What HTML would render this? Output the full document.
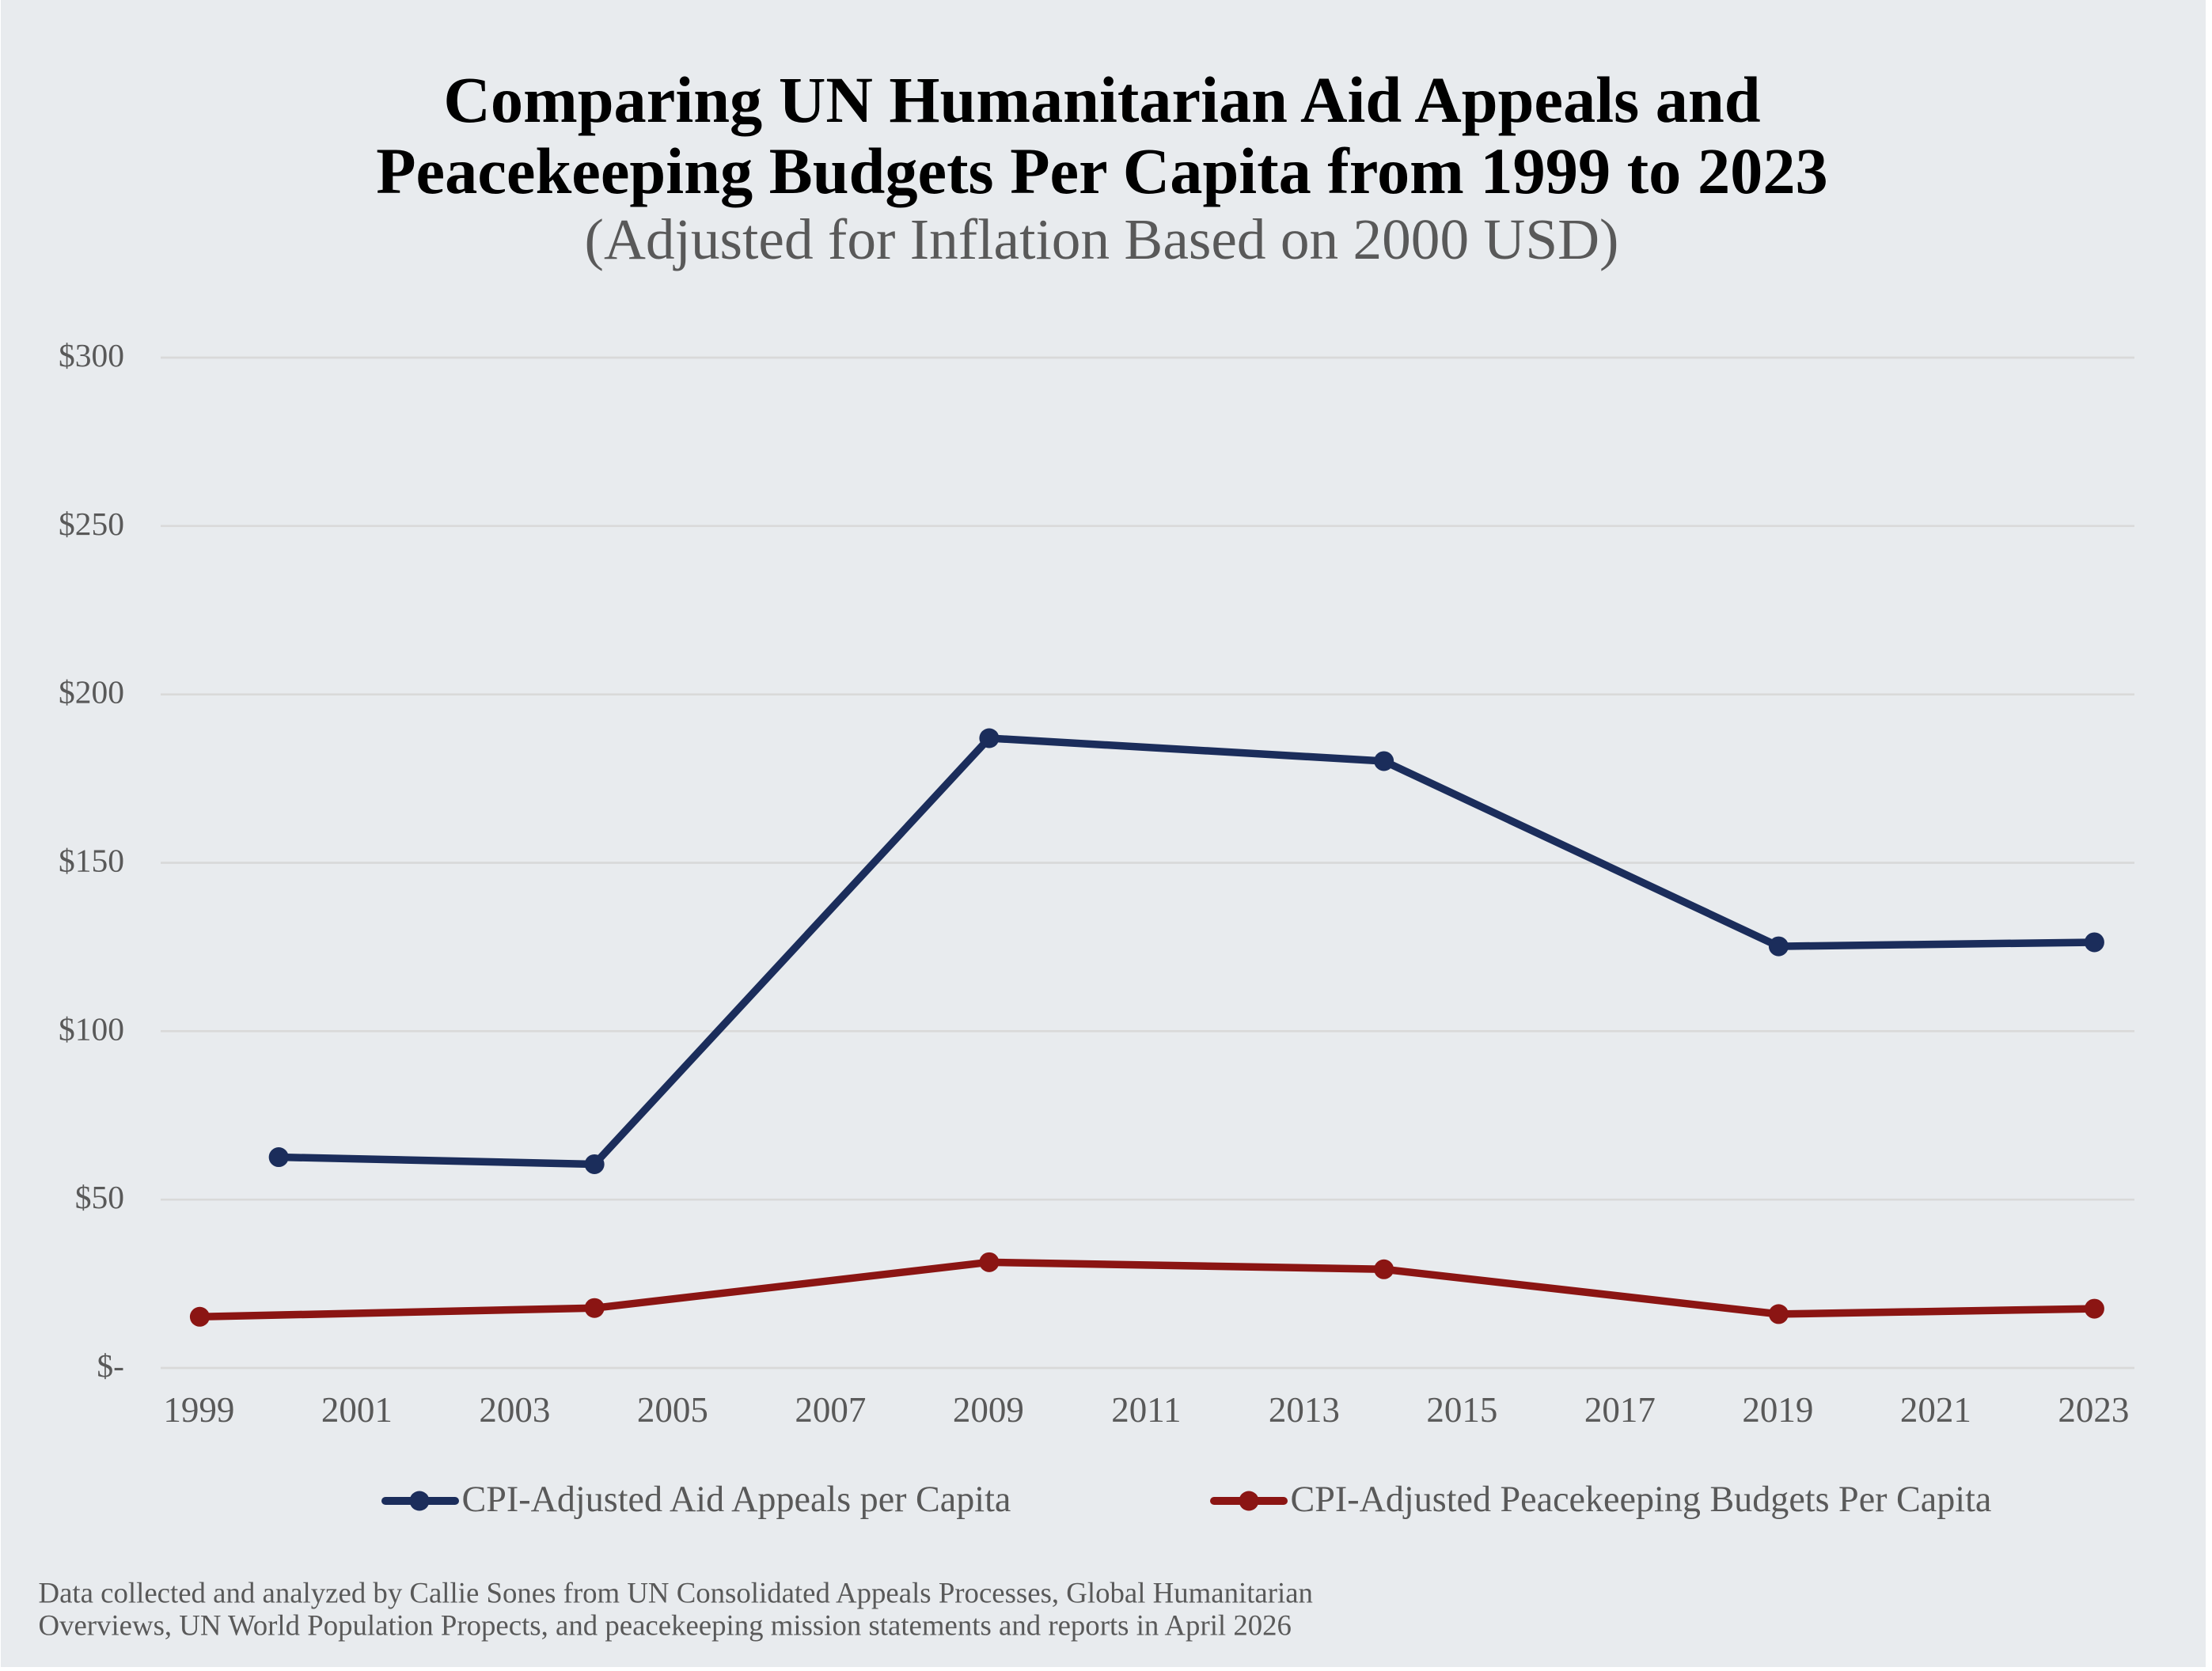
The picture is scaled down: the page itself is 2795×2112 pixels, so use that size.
<!DOCTYPE html>
<html lang="en"><head><meta charset="utf-8"><title>UN Aid Appeals and Peacekeeping Budgets Per Capita</title>
<style>
html,body{margin:0;padding:0;background:#ffffff;}
svg{display:block;font-family:"Liberation Serif","Times New Roman",serif;}
</style></head>
<body>
<svg id="chart" xmlns="http://www.w3.org/2000/svg" width="2795" height="2112" viewBox="0 0 2795 2112">
<rect x="1" y="0" width="2786" height="2107" fill="#e8ebee"/>
<text x="1392.5" y="154" text-anchor="middle" font-size="82.4" font-weight="700" fill="#000">Comparing UN Humanitarian Aid Appeals and</text>
<text x="1392.5" y="244" text-anchor="middle" font-size="82.4" font-weight="700" fill="#000">Peacekeeping Budgets Per Capita from 1999 to 2023</text>
<text x="1392" y="327" text-anchor="middle" font-size="73.3" fill="#595959">(Adjusted for Inflation Based on 2000 USD)</text>
<g id="grid"></g>
<g id="yticks" font-size="41.5" fill="#595959" text-anchor="end"></g>
<g id="xticks" font-size="45" fill="#595959" text-anchor="middle"></g>
<g id="series"></g>
<g>
<g>
<line x1="487" y1="1897" x2="575" y2="1897" stroke="#1b2d5b" stroke-width="10" stroke-linecap="round"/>
<circle cx="530" cy="1897" r="12.5" fill="#1b2d5b"/>
<text x="583.5" y="1910" font-size="46.1" fill="#595959">CPI-Adjusted Aid Appeals per Capita</text>
</g>
<g>
<line x1="1534" y1="1897" x2="1622" y2="1897" stroke="#8b1513" stroke-width="10" stroke-linecap="round"/>
<circle cx="1578" cy="1897" r="12.5" fill="#8b1513"/>
<text x="1630.5" y="1910" font-size="46.1" fill="#595959">CPI-Adjusted Peacekeeping Budgets Per Capita</text>
</g>
</g>
<text x="48.5" y="2025.5" font-size="36.8" fill="#595959">Data collected and analyzed by Callie Sones from UN Consolidated Appeals Processes, Global Humanitarian</text>
<text x="48.5" y="2066.5" font-size="36.8" fill="#595959">Overviews, UN World Population Propects, and peacekeeping mission statements and reports in April 2026</text>
</svg>
<script>
const yTickValues = [0, 50, 100, 150, 200, 250, 300];
const yTickLabels = ["$-", "$50", "$100", "$150", "$200", "$250", "$300"];
const xTickYears = [1999, 2001, 2003, 2005, 2007, 2009, 2011, 2013, 2015, 2017, 2019, 2021, 2023];
const aidYears = [2000, 2004, 2009, 2014, 2019, 2023];
const aidValues = [62.6, 60.5, 187, 180.2, 125.2, 126.4];
const peaceYears = [1999, 2004, 2009, 2014, 2019, 2023];
const peaceValues = [15.2, 17.8, 31.4, 29.3, 16, 17.6];

const NS = "http://www.w3.org/2000/svg";
const xScale = function (year) { return 252.4 + (year - 1999) * 99.75; };
const yScale = function (v) { return 1729 - v * (1729 - 452) / 300; };
const make = function (tag, parent, attrs, text) {
  const el = document.createElementNS(NS, tag);
  Object.keys(attrs).forEach(function (k) { el.setAttribute(k, attrs[k]); });
  if (text !== undefined) { el.textContent = text; }
  parent.appendChild(el);
  return el;
};

const gridGroup = document.getElementById("grid");
const yGroup = document.getElementById("yticks");
yTickValues.forEach(function (v, i) {
  const line = make("line", gridGroup, { x1: 203, x2: 2697, y1: yScale(v), y2: yScale(v), stroke: "#d9d9d9", "stroke-width": 2.7 });
  
  
  const label = make("text", yGroup, { x: 157, y: yScale(v) + 11 }, yTickLabels[i]);
  
  
});

const xGroup = document.getElementById("xticks");
xTickYears.forEach(function (year) {
  const label = make("text", xGroup, { x: xScale(year) - 1, y: 1797 }, String(year));
  
  
});

const seriesGroup = document.getElementById("series");
const drawSeries = function (years, values, color, lineName, markerName) {
  const pts = years.map(function (y, i) { return xScale(y) + "," + yScale(values[i]); }).join(" ");
  const line = make("polyline", seriesGroup, { points: pts, fill: "none", stroke: color, "stroke-width": 9.5, "stroke-linejoin": "round" });
  
  
  years.forEach(function (y, i) {
    const dot = make("circle", seriesGroup, { cx: xScale(y), cy: yScale(values[i]), r: 12.5, fill: color });
    
    
  });
};
drawSeries(aidYears, aidValues, "#1b2d5b", "aid-appeals-line", "aid-appeals-point");
drawSeries(peaceYears, peaceValues, "#8b1513", "peacekeeping-line", "peacekeeping-point");
</script>
</body></html>
